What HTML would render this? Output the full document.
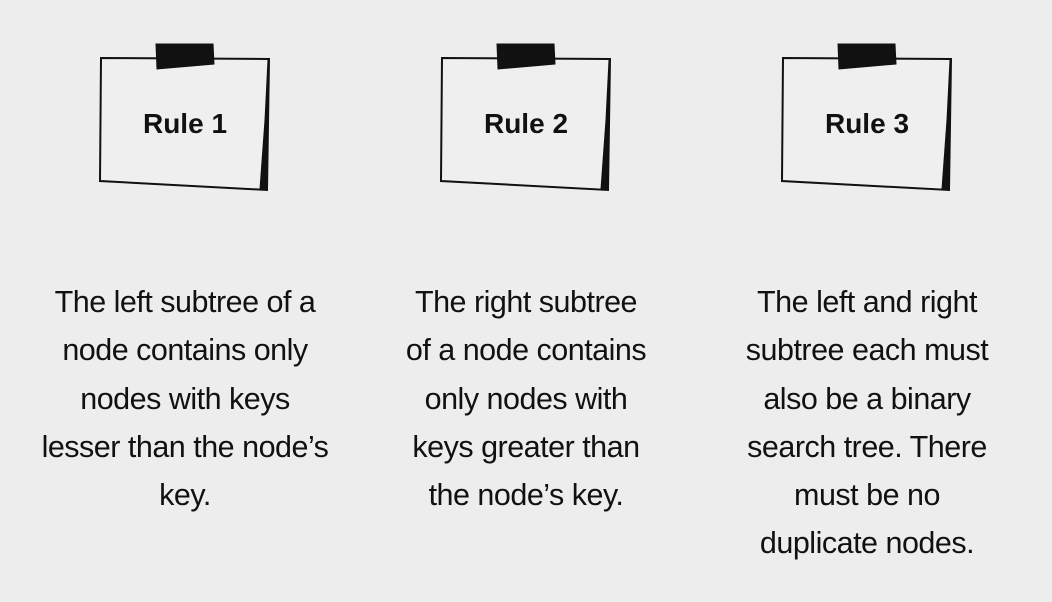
<!DOCTYPE html>
<html><head><style>
body{margin:0;width:1052px;height:602px;background:#ededed;overflow:hidden;position:relative;font-family:"Liberation Sans",sans-serif;}
.t{position:absolute;top:278px;width:340px;text-align:center;font-size:30.5px;line-height:48.3px;color:#111;letter-spacing:-0.5px;white-space:nowrap}
.r{position:absolute;top:108px;width:170px;text-align:center;font-size:28px;font-weight:bold;color:#111}
</style></head><body>
<svg width="1052" height="602" style="position:absolute;left:0;top:0">
<g id="n" fill="none" stroke="#111">
<path d="M101 58 L269 59 L267 190 L100 181 Z" stroke-width="2" fill="#efefef"/>
<path d="M268 60 L266 190 L260 189 L265 120 Z" fill="#111" stroke-width="1"/>
<path d="M156 44 L213 44 L214 64 L157 69 Z" fill="#111" stroke="#111" stroke-width="1"/>
</g>
<use href="#n" x="341"/>
<use href="#n" x="682"/>
</svg>
<div class="r" style="left:100px">Rule 1</div>
<div class="r" style="left:441px">Rule 2</div>
<div class="r" style="left:782px">Rule 3</div>
<div class="t" style="left:15px">The left subtree of a<br>node contains only<br>nodes with keys<br>lesser than the node’s<br>key.</div>
<div class="t" style="left:356px">The right subtree<br>of a node contains<br>only nodes with<br>keys greater than<br>the node’s key.</div>
<div class="t" style="left:697px">The left and right<br>subtree each must<br>also be a binary<br>search tree. There<br>must be no<br>duplicate nodes.</div>
</body></html>
